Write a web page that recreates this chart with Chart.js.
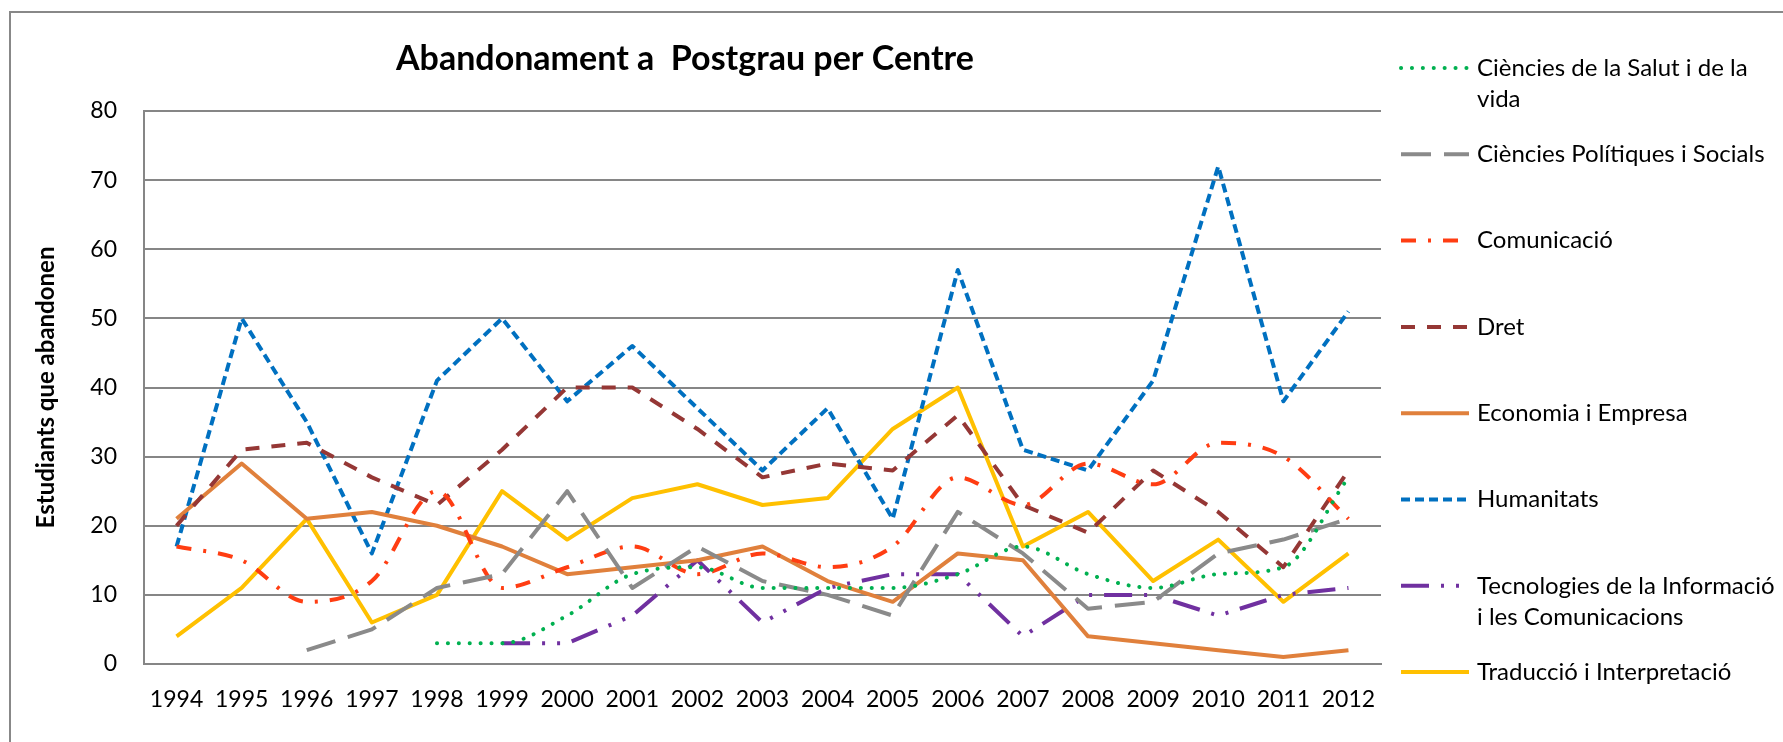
<!DOCTYPE html>
<html lang="ca">
<head>
<meta charset="UTF-8">
<title>Abandonament a Postgrau per Centre</title>
<script src="https://cdn.jsdelivr.net/npm/chart.js"></script>
<style>
    html, body { margin: 0; padding: 0; background: #fff; overflow: hidden; }
    .wrap { position: relative; width: 1783px; height: 742px; }
    .frame { position: absolute; left: 9px; top: 11px; width: 1800px; height: 800px;
             border: 2px solid #888; pointer-events: none; }
</style>
</head>
<body>
<div class="wrap">
    <canvas id="chart"></canvas>
    <div class="frame"></div>
</div>

<script>
    // Abandonaments per any i centre
    const years = ['1994','1995','1996','1997','1998','1999','2000','2001','2002','2003',
                   '2004','2005','2006','2007','2008','2009','2010','2011','2012'];

    const salut       = [null,null,null,null,3,3,7,13,14,11,11,11,13,17,13,11,13,14,27];
    const politiques  = [null,null,2,5,11,13,25,11,17,12,10,7,22,16,8,9,16,18,21];
    const comunicacio = [17,15,9,12,25,11,14,17,13,16,14,17,27,23,29,26,32,30,21];
    const dret        = [20,31,32,27,23,31,40,40,34,27,29,28,36,23,19,28,22,14,28];
    const economia    = [21,29,21,22,20,17,13,14,15,17,12,9,16,15,4,3,2,1,2];
    const humanitats  = [17,50,35,16,41,50,38,46,37,28,37,21,57,31,28,41,72,38,51];
    const tecnologies = [null,null,null,null,null,3,3,7,15,6,11,13,13,4,10,10,7,10,11];
    const traduccio   = [4,11,21,6,10,25,18,24,26,23,24,34,40,17,22,12,18,9,16];

    const yTicks = [0, 10, 20, 30, 40, 50, 60, 70, 80];

    // text de la llegenda, ja partit en línies
    const legendLines = [
        ['Ciències de la Salut i de la', 'vida'],
        ['Ciències Polítiques i Socials'],
        ['Comunicació'],
        ['Dret'],
        ['Economia i Empresa'],
        ['Humanitats'],
        ['Tecnologies de la Informació', 'i les Comunicacions'],
        ['Traducció i Interpretació']
    ];

    const FONT = 'Lato, "Open Sans", sans-serif';

    function serie(label, data, color, dash, extra) {
        return Object.assign({
            label: label,
            data: data,
            borderColor: color,
            backgroundColor: color,
            borderWidth: 4,
            borderDash: dash,
            borderCapStyle: 'butt',
            borderJoinStyle: 'round',
            pointRadius: 0,
            pointHoverRadius: 0,
            tension: 0,
            fill: false
        }, extra || {});
    }

    // les línies suavitzades no han de passar per sota dels valors reals
    const suau = { tension: 0.4, cubicInterpolationMode: 'monotone' };

    const datasets = [
        serie('Ciències de la Salut i de la vida', salut, '#00B050', [0.1, 10.8],
              Object.assign({ borderCapStyle: 'round' }, suau)),
        serie('Ciències Polítiques i Socials', politiques, '#8A8A8A', [30, 13]),
        serie('Comunicació', comunicacio, '#FF3D12', [15, 12, 3, 12], suau),
        serie('Dret', dret, '#953735', [14, 12]),
        serie('Economia i Empresa', economia, '#E0803C', []),
        serie('Humanitats', humanitats, '#0070C0', [9, 5]),
        serie('Tecnologies de la Informació i les Comunicacions', tecnologies, '#7030A0',
              [28, 12, 3, 12, 3, 12]),
        serie('Traducció i Interpretació', traduccio, '#FFC000', [])
    ];

    // títol del gràfic
    const titlePlugin = {
        id: 'titolGrafic',
        afterDraw(chart) {
            const ctx = chart.ctx;
            ctx.save();
            ctx.font = 'bold 34px ' + FONT;
            ctx.fillStyle = '#000';
            ctx.textAlign = 'center';
            ctx.textBaseline = 'middle';
            ctx.fillText('Abandonament a  Postgrau per Centre', 685, 59);
            ctx.restore();
        }
    };

    // llegenda a la dreta, amb el mateix traç que cada sèrie
    const legendPlugin = {
        id: 'llegenda',
        afterDraw(chart) {
            const ctx = chart.ctx;
            const x0 = 1401, x1 = 1469, tx = 1477;
            ctx.save();
            ctx.font = '24px ' + FONT;
            ctx.textBaseline = 'middle';
            ctx.textAlign = 'left';
            chart.data.datasets.forEach((ds, i) => {
                const y = 68 + i * 86.3;
                ctx.beginPath();
                ctx.strokeStyle = ds.borderColor;
                ctx.lineWidth = ds.borderWidth;
                ctx.lineCap = ds.borderCapStyle;
                ctx.setLineDash(ds.borderDash);
                ctx.moveTo(x0, y);
                ctx.lineTo(x1, y);
                ctx.stroke();
                ctx.setLineDash([]);
                ctx.fillStyle = '#000';
                legendLines[i].forEach((line, j) => {
                    ctx.fillText(line, tx, y + j * 31);
                });
            });
            ctx.restore();
        }
    };

    new Chart(document.getElementById('chart'), {
        type: 'line',
        data: { labels: years, datasets: datasets },
        options: {
            responsive: true,
            maintainAspectRatio: false,
            animation: false,
            layout: { padding: { left: 0, top: 111, right: 402, bottom: 0 } },
            plugins: {
                legend: { display: false },
                title: { display: false },
                tooltip: { enabled: false }
            },
            scales: {
                x: {
                    offset: true,
                    grid: { display: false },
                    border: { display: true, color: '#868686', width: 2 },
                    ticks: {
                        color: '#000',
                        font: { family: FONT, size: 23 },
                        padding: 14,
                        maxRotation: 0,
                        autoSkip: false
                    },
                    afterFit(scale) { scale.height = 78; }
                },
                y: {
                    min: 0,
                    max: 80,
                    afterBuildTicks(scale) { scale.ticks = yTicks.map(v => ({ value: v })); },
                    grid: { color: '#868686', lineWidth: 2, drawTicks: false },
                    border: { display: true, color: '#868686', width: 2 },
                    ticks: {
                        color: '#000',
                        font: { family: FONT, size: 23 },
                        padding: 27
                    },
                    title: {
                        display: true,
                        text: 'Estudiants que abandonen',
                        color: '#000',
                        font: { family: FONT, size: 24, weight: 'bold' },
                        padding: { top: 32, bottom: 0 }
                    },
                    afterFit(scale) { scale.width = 144; }
                }
            }
        },
        plugins: [titlePlugin, legendPlugin]
    });
</script>
</body>
</html>
